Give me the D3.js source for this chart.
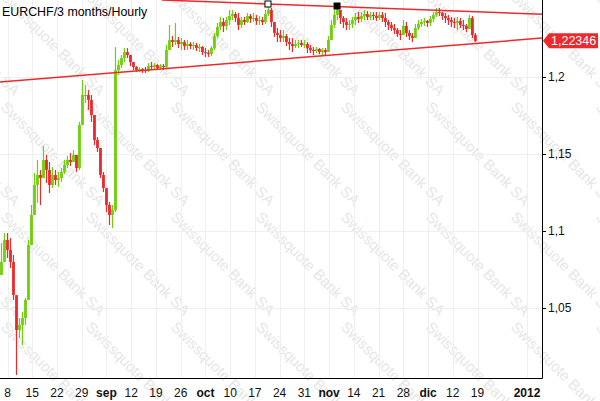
<!DOCTYPE html>
<meta charset="utf-8">
<head>
<style>
  body { margin: 0; background: #fff; }
  svg { display: block; font-family: "Liberation Sans", Arial, sans-serif; }
</style>
</head>
<body>
<div id="chart"></div>
<script src="https://cdn.jsdelivr.net/npm/d3@7/dist/d3.min.js"></script>
<script>

var title = "EURCHF/3 months/Hourly";

// bars: one every ~20h starting from barStart
var barStart = new Date(2011, 7, 6, 7, 15);
var barStepHours = 20.37;

var high = [1.0922,1.0987,1.0987,1.0955,1.0844,1.0455,1.0435,1.0474,1.0565,1.0942,
  1.1169,1.1377,1.1461,1.1396,1.1552,1.1494,1.1448,1.1416,1.1396,1.1383,
  1.1409,1.1461,1.1487,1.1506,1.1526,1.1487,1.1708,1.1981,1.1948,1.1916,
  1.1883,1.1753,1.1610,1.1526,1.1383,1.1247,1.1188,1.1169,1.2195,1.2110,
  1.2143,1.2188,1.2188,1.2143,1.2097,1.2071,1.2065,1.2058,1.2065,1.2091,
  1.2097,1.2091,1.2084,1.2084,1.2084,1.2208,1.2338,1.2266,1.2351,1.2260,
  1.2253,1.2240,1.2240,1.2227,1.2227,1.2221,1.2214,1.2201,1.2188,1.2175,
  1.2201,1.2286,1.2351,1.2390,1.2383,1.2390,1.2435,1.2435,1.2422,1.2416,
  1.2390,1.2390,1.2416,1.2409,1.2416,1.2403,1.2396,1.2390,1.2435,1.2474,
  1.2448,1.2357,1.2318,1.2305,1.2305,1.2279,1.2253,1.2253,1.2240,1.2240,
  1.2240,1.2240,1.2227,1.2208,1.2195,1.2195,1.2188,1.2188,1.2188,1.2266,
  1.2370,1.2435,1.2468,1.2422,1.2396,1.2383,1.2370,1.2390,1.2416,1.2422,
  1.2422,1.2435,1.2429,1.2422,1.2422,1.2422,1.2422,1.2422,1.2416,1.2370,
  1.2357,1.2344,1.2318,1.2305,1.2370,1.2357,1.2305,1.2286,1.2344,1.2370,
  1.2377,1.2383,1.2370,1.2396,1.2422,1.2448,1.2448,1.2422,1.2416,1.2403,
  1.2390,1.2383,1.2390,1.2383,1.2370,1.2344,1.2403,1.2396,1.2286];

var low = [1.0714,1.0799,1.0825,1.0760,1.0552,1.0065,1.0305,1.0260,1.0390,1.0552,
  1.0909,1.1104,1.1182,1.1169,1.1344,1.1312,1.1247,1.1279,1.1299,1.1286,
  1.1318,1.1370,1.1409,1.1422,1.1448,1.1383,1.1396,1.1688,1.1831,1.1786,
  1.1708,1.1558,1.1513,1.1344,1.1253,1.1123,1.1039,1.1019,1.1123,1.2013,
  1.2058,1.2097,1.2123,1.2071,1.2045,1.2032,1.2032,1.2026,1.2026,1.2032,
  1.2045,1.2052,1.2045,1.2045,1.2045,1.2058,1.2175,1.2195,1.2208,1.2188,
  1.2175,1.2175,1.2175,1.2182,1.2175,1.2169,1.2162,1.2143,1.2130,1.2130,
  1.2136,1.2175,1.2253,1.2305,1.2292,1.2305,1.2338,1.2370,1.2357,1.2305,
  1.2318,1.2338,1.2351,1.2351,1.2357,1.2338,1.2338,1.2338,1.2344,1.2396,
  1.2325,1.2260,1.2227,1.2227,1.2227,1.2201,1.2175,1.2162,1.2188,1.2188,
  1.2195,1.2188,1.2156,1.2156,1.2143,1.2156,1.2149,1.2143,1.2143,1.2162,
  1.2240,1.2318,1.2370,1.2344,1.2318,1.2305,1.2305,1.2318,1.2338,1.2351,
  1.2357,1.2370,1.2370,1.2370,1.2370,1.2364,1.2370,1.2357,1.2325,1.2305,
  1.2299,1.2279,1.2260,1.2240,1.2273,1.2260,1.2240,1.2227,1.2253,1.2305,
  1.2325,1.2331,1.2325,1.2331,1.2357,1.2390,1.2396,1.2370,1.2351,1.2338,
  1.2325,1.2318,1.2305,1.2318,1.2305,1.2292,1.2318,1.2253,1.2227];

var close = [1.0799,1.0942,1.0877,1.0799,1.0584,1.0357,1.0390,1.0435,1.0552,1.0909,
  1.1104,1.1299,1.1364,1.1344,1.1461,1.1396,1.1299,1.1364,1.1331,1.1344,
  1.1383,1.1429,1.1461,1.1448,1.1494,1.1409,1.1688,1.1883,1.1883,1.1851,
  1.1753,1.1591,1.1539,1.1364,1.1279,1.1169,1.1104,1.1136,1.2045,1.2078,
  1.2123,1.2162,1.2143,1.2097,1.2065,1.2045,1.2052,1.2045,1.2039,1.2071,
  1.2065,1.2078,1.2058,1.2071,1.2065,1.2175,1.2240,1.2227,1.2240,1.2214,
  1.2227,1.2201,1.2214,1.2201,1.2208,1.2188,1.2195,1.2162,1.2156,1.2149,
  1.2188,1.2266,1.2325,1.2357,1.2331,1.2370,1.2396,1.2409,1.2383,1.2338,
  1.2370,1.2357,1.2396,1.2377,1.2383,1.2364,1.2370,1.2357,1.2409,1.2435,
  1.2357,1.2286,1.2273,1.2253,1.2266,1.2227,1.2214,1.2201,1.2214,1.2221,
  1.2208,1.2214,1.2188,1.2175,1.2169,1.2182,1.2162,1.2175,1.2162,1.2240,
  1.2338,1.2403,1.2435,1.2383,1.2357,1.2338,1.2344,1.2370,1.2390,1.2377,
  1.2396,1.2409,1.2390,1.2403,1.2396,1.2383,1.2403,1.2383,1.2357,1.2338,
  1.2318,1.2305,1.2279,1.2273,1.2331,1.2286,1.2266,1.2253,1.2318,1.2344,
  1.2357,1.2364,1.2351,1.2377,1.2403,1.2422,1.2416,1.2396,1.2383,1.2370,
  1.2357,1.2351,1.2364,1.2338,1.2331,1.2312,1.2383,1.2273,1.22346];

var lastPrice = 1.22346;

var yTicks = [1.05, 1.1, 1.15, 1.2];

var xTickDates = ["2011-08-08","2011-08-15","2011-08-22","2011-08-29","2011-09-05","2011-09-12",
  "2011-09-19","2011-09-26","2011-10-03","2011-10-10","2011-10-17","2011-10-24","2011-10-31",
  "2011-11-07","2011-11-14","2011-11-21","2011-11-28","2011-12-05","2011-12-12","2011-12-19","2012-01-02"];
var xTickLabels = ["8","15","22","29","sep","12","19","26","oct","10","17","24","31",
  "nov","14","21","28","dic","12","19","2012"];

// trend lines (date, price)
var upperTrend = [[new Date(2011, 8, 20, 17), 1.2500], [new Date(2012, 0, 6, 6), 1.2407]];
var lowerTrend = [[new Date(2011, 7, 5, 21), 1.1968], [new Date(2012, 0, 6, 6), 1.2253]];

// swing markers
var markers = [
  { t: new Date(2011, 9, 20, 17), price: 1.2474, filled: false },
  { t: new Date(2011, 10, 9, 6), price: 1.2461, filled: true }
];

var watermark = "Swissquote Bank SA";

var W = 600, H = 401, plotR = 542, plotB = 378;
var green = "#6fcf0a", red = "#ec2a2c";

var locale = d3.formatLocale({ decimal: ",", thousands: ".", grouping: [3], currency: ["", ""] });
var fmtTick = locale.format("~f");
var fmtPrice = locale.format(".5f");
var parse = d3.timeParse("%Y-%m-%d");

var x = d3.scaleTime()
  .domain([new Date(2011, 7, 8), new Date(2012, 0, 2)])
  .range([7.5, 527]);

var y = d3.scaleLinear()
  .domain([1.0, 1.25])
  .range([385, 0]);

var svg = d3.select("#chart").append("svg")
  .attr("width", W)
  .attr("height", H);

// watermark grid
var wm = svg.append("g");
for (var k = -3; k < 8; k++) {
  for (var m = -3; m < 3; m++) {
    wm.append("text")
      .attr("transform", "translate(" + (85 * k) + "," + (218 + 110 * m) + ") rotate(45)")
      .attr("font-size", 15)
      .attr("fill", "#e6e6e6")
      .text(watermark);
  }
}

svg.append("defs").append("clipPath").attr("id", "clip")
  .append("rect").attr("width", plotR).attr("height", plotB);

// grid
var grid = svg.append("g").attr("stroke", "#efefef").attr("stroke-width", 1);
grid.selectAll("line.h").data(yTicks).join("line")
  .attr("x1", 0).attr("x2", plotR)
  .attr("y1", function(d) { return Math.round(y(d)) + 0.5; })
  .attr("y2", function(d) { return Math.round(y(d)) + 0.5; });
grid.selectAll("line.v").data(xTickDates).join("line")
  .attr("y1", 0).attr("y2", plotB)
  .attr("x1", function(d) { return Math.round(x(parse(d))) + 0.5; })
  .attr("x2", function(d) { return Math.round(x(parse(d))) + 0.5; });

var plot = svg.append("g").attr("clip-path", "url(#clip)");

var bars = close.map(function(c, i) {
  return {
    t: new Date(barStart.getTime() + i * barStepHours * 3600e3),
    open: i ? close[i - 1] : low[0],
    close: c, high: high[i], low: low[i]
  };
});

function barColor(d) { return d.close >= d.open ? green : red; }

plot.selectAll("line.wick").data(bars).join("line")
  .attr("x1", function(d) { return x(d.t); })
  .attr("x2", function(d) { return x(d.t); })
  .attr("y1", function(d) { return y(d.high); })
  .attr("y2", function(d) { return y(d.low); })
  .attr("stroke", barColor)
  .attr("stroke-width", 1.2);

plot.selectAll("rect.body").data(bars).join("rect")
  .attr("x", function(d) { return x(d.t) - 1.4; })
  .attr("width", 2.8)
  .attr("y", function(d) { return y(Math.max(d.open, d.close)); })
  .attr("height", function(d) { return Math.max(1, Math.abs(y(d.open) - y(d.close))); })
  .attr("fill", barColor);

// trend lines
var line = d3.line().x(function(d) { return x(d[0]); }).y(function(d) { return y(d[1]); });
[upperTrend, lowerTrend].forEach(function(tl) {
  plot.append("path").datum(tl)
    .attr("d", line)
    .attr("fill", "none")
    .attr("stroke", red)
    .attr("stroke-width", 1.5);
});

plot.selectAll("rect.marker").data(markers).join("rect")
  .attr("x", function(d) { return x(d.t) - 3; })
  .attr("y", function(d) { return y(d.price) - 3; })
  .attr("width", 6).attr("height", 6)
  .attr("fill", function(d) { return d.filled ? "#000" : "#fff"; })
  .attr("stroke", "#000")
  .attr("stroke-width", 1);

// axes lines
svg.append("line").attr("x1", 0).attr("x2", plotR + 0.5).attr("y1", plotB + 0.5).attr("y2", plotB + 0.5)
  .attr("stroke", "#000");
svg.append("line").attr("x1", plotR + 0.5).attr("x2", plotR + 0.5).attr("y1", 0).attr("y2", plotB + 0.5)
  .attr("stroke", "#000");

// y ticks
var yAx = svg.append("g");
yAx.selectAll("line").data(yTicks).join("line")
  .attr("x1", plotR).attr("x2", plotR + 4)
  .attr("y1", function(d) { return Math.round(y(d)) + 0.5; })
  .attr("y2", function(d) { return Math.round(y(d)) + 0.5; })
  .attr("stroke", "#000");
yAx.selectAll("text").data(yTicks).join("text")
  .attr("x", plotR + 6)
  .attr("y", function(d) { return y(d) + 4; })
  .attr("font-size", 12)
  .attr("fill", "#111")
  .text(fmtTick);

// x tick labels
svg.append("g").selectAll("text").data(xTickDates).join("text")
  .attr("x", function(d) { return x(parse(d)); })
  .attr("y", 397)
  .attr("text-anchor", "middle")
  .attr("font-size", 12)
  .attr("font-weight", function(d, i) { return isNaN(+xTickLabels[i]) || xTickLabels[i].length > 2 ? "bold" : "normal"; })
  .attr("fill", "#111")
  .text(function(d, i) { return xTickLabels[i]; });

// last price label
var ly = y(lastPrice);
svg.append("path")
  .attr("d", "M" + (plotR + 1) + "," + ly + "L" + (plotR + 7) + "," + (ly - 7.5) + "H598V" + (ly + 7.5) + "H" + (plotR + 7) + "Z")
  .attr("fill", red);
svg.append("text")
  .attr("x", plotR + 9)
  .attr("y", ly + 4.5)
  .attr("font-size", 12.5)
  .attr("fill", "#fff")
  .text(fmtPrice(lastPrice));

svg.append("text")
  .attr("x", 2)
  .attr("y", 16)
  .attr("font-size", 12.4)
  .attr("fill", "#000")
  .text(title);

</script>
</body>
